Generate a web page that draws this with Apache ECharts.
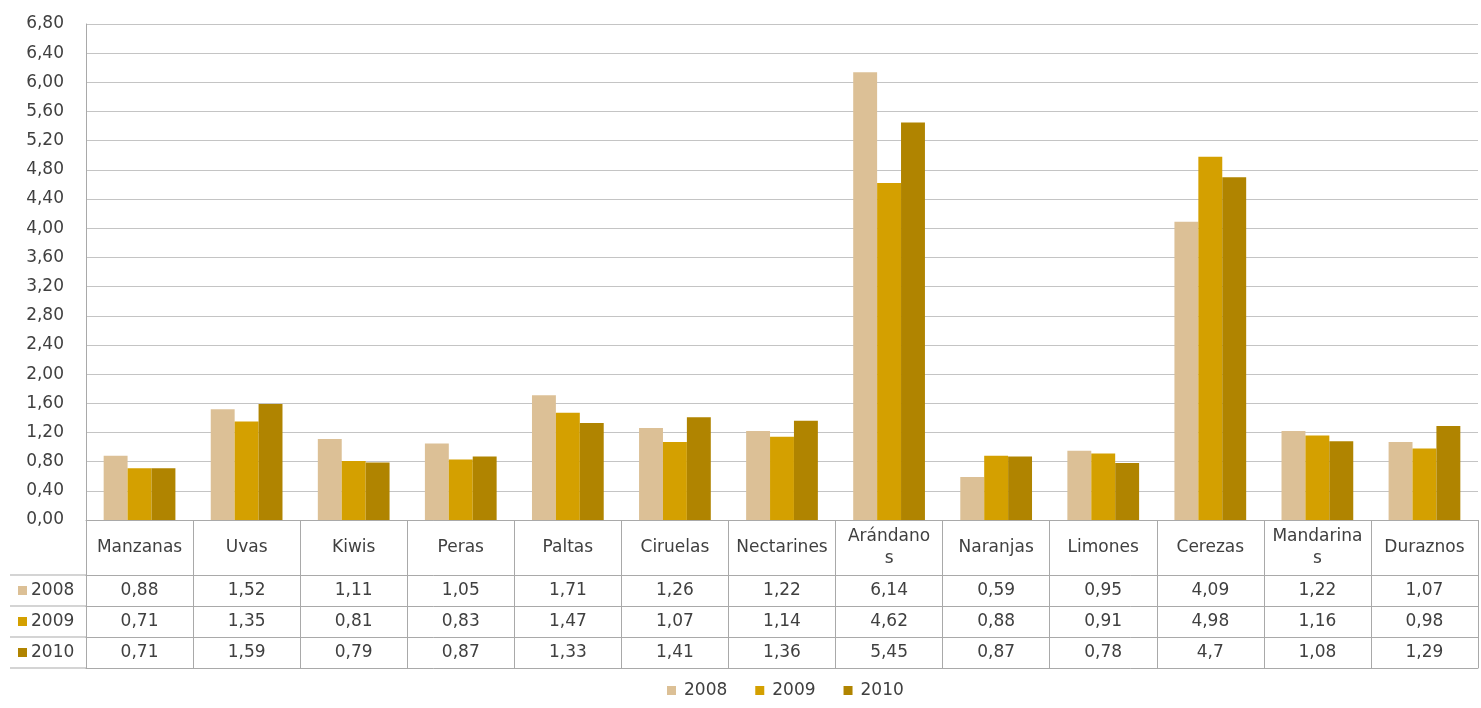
<!DOCTYPE html>
<html>
<head>
<meta charset="utf-8">
<script src="https://cdn.jsdelivr.net/npm/echarts@6/dist/echarts.min.js"></script>
<style>
  html, body { margin: 0; padding: 0; background: #fff; }
  #chart { width: 1481px; height: 708px; }
</style>
</head>
<body>
<div id="chart"></div>
<script>
// categorias tal como aparecen en la tabla (con el corte de Excel)
var categories = ['Manzanas', 'Uvas', 'Kiwis', 'Peras', 'Paltas', 'Ciruelas', 'Nectarines',
  'Arándano\ns', 'Naranjas', 'Limones', 'Cerezas', 'Mandarina\ns', 'Duraznos'];
var years = ['2008', '2009', '2010'];
var v2008 = [0.88, 1.52, 1.11, 1.05, 1.71, 1.26, 1.22, 6.14, 0.59, 0.95, 4.09, 1.22, 1.07];
var v2009 = [0.71, 1.35, 0.81, 0.83, 1.47, 1.07, 1.14, 4.62, 0.88, 0.91, 4.98, 1.16, 0.98];
var v2010 = [0.71, 1.59, 0.79, 0.87, 1.33, 1.41, 1.36, 5.45, 0.87, 0.78, 4.7, 1.08, 1.29];
var colors = ['#dcc096', '#d4a000', '#b08400'];

var seriesData = [v2008, v2009, v2010];
var fmt = function (v) { return String(v).replace('.', ','); };

var chart = echarts.init(document.getElementById('chart'));

var gridBottom = 188; // 0,00 en y=520
var rowH = 31;
var headH = 55;
var lineColor = '#a9a9a9';
var txt = '#404040';
var font = 'DejaVu Sans, Liberation Sans, sans-serif';

var xAxes = [{
  type: 'category',
  data: categories,
  position: 'bottom',
  axisLine: { show: true, lineStyle: { color: lineColor } },
  axisTick: { show: true, interval: 0, length: headH + rowH * 3, lineStyle: { color: lineColor } },
  axisLabel: {
    interval: 0, margin: 6, color: txt, fontSize: 17, fontFamily: font, lineHeight: 22,
    formatter: function (s) { return s.indexOf('\n') < 0 ? '{one|' + s + '}' : s; },
    rich: { one: { color: txt, fontSize: 17, fontFamily: font, lineHeight: 44 } }
  }
}];
seriesData.forEach(function (arr, i) {
  xAxes.push({
    type: 'category',
    data: arr.map(fmt),
    position: 'bottom',
    offset: headH + rowH * i,
    axisLine: { show: true, lineStyle: { color: lineColor } },
    axisTick: { show: false },
    axisLabel: { interval: 0, margin: 7, color: txt, fontSize: 17, fontFamily: font }
  });
});
xAxes.push({
  type: 'category',
  data: categories,
  position: 'bottom',
  offset: headH + rowH * 3,
  axisLine: { show: true, lineStyle: { color: lineColor } },
  axisTick: { show: false },
  axisLabel: { show: false }
});

// cabeceras de fila de la tabla
var graphics = [];
var tableTop = 708 - gridBottom + headH;
years.forEach(function (y, i) {
  var top = tableTop + rowH * i;
  graphics.push({
    type: 'line', shape: { x1: 10, y1: top, x2: 86, y2: top },
    style: { stroke: lineColor, lineWidth: 1 }
  });
  graphics.push({
    type: 'rect', shape: { x: 18, y: top + 11, width: 9, height: 9 },
    style: { fill: colors[i] }
  });
  graphics.push({
    type: 'text', x: 31, y: top + 7,
    style: { text: y, fill: txt, font: '17px ' + font }
  });
});
graphics.push({
  type: 'line', shape: { x1: 10, y1: tableTop + rowH * 3, x2: 86, y2: tableTop + rowH * 3 },
  style: { stroke: lineColor, lineWidth: 1 }
});

chart.setOption({
  animation: false,
  backgroundColor: '#fff',
  color: colors,
  grid: { left: 86, right: 3, top: 24, bottom: gridBottom, containLabel: false },
  legend: {
    bottom: 4,
    left: 662,
    itemWidth: 9, itemHeight: 9, itemGap: 28,
    icon: 'rect',
    textStyle: { color: txt, fontSize: 17, fontFamily: font, padding: [0, 0, 0, 3] },
    data: years
  },
  xAxis: xAxes,
  yAxis: {
    type: 'value',
    min: 0, max: 6.8, interval: 0.4,
    axisLine: { show: true, lineStyle: { color: lineColor } },
    axisTick: { show: false },
    splitLine: { lineStyle: { color: '#c4c4c4' } },
    axisLabel: {
      margin: 22, color: txt, fontSize: 17, fontFamily: font,
      formatter: function (v) { return v.toFixed(2).replace('.', ','); }
    }
  },
  graphic: graphics,
  series: years.map(function (y, i) {
    return {
      name: y,
      type: 'bar',
      xAxisIndex: 0,
      data: seriesData[i],
      barGap: '0%',
      barCategoryGap: '33%'
    };
  })
});
</script>
</body>
</html>
